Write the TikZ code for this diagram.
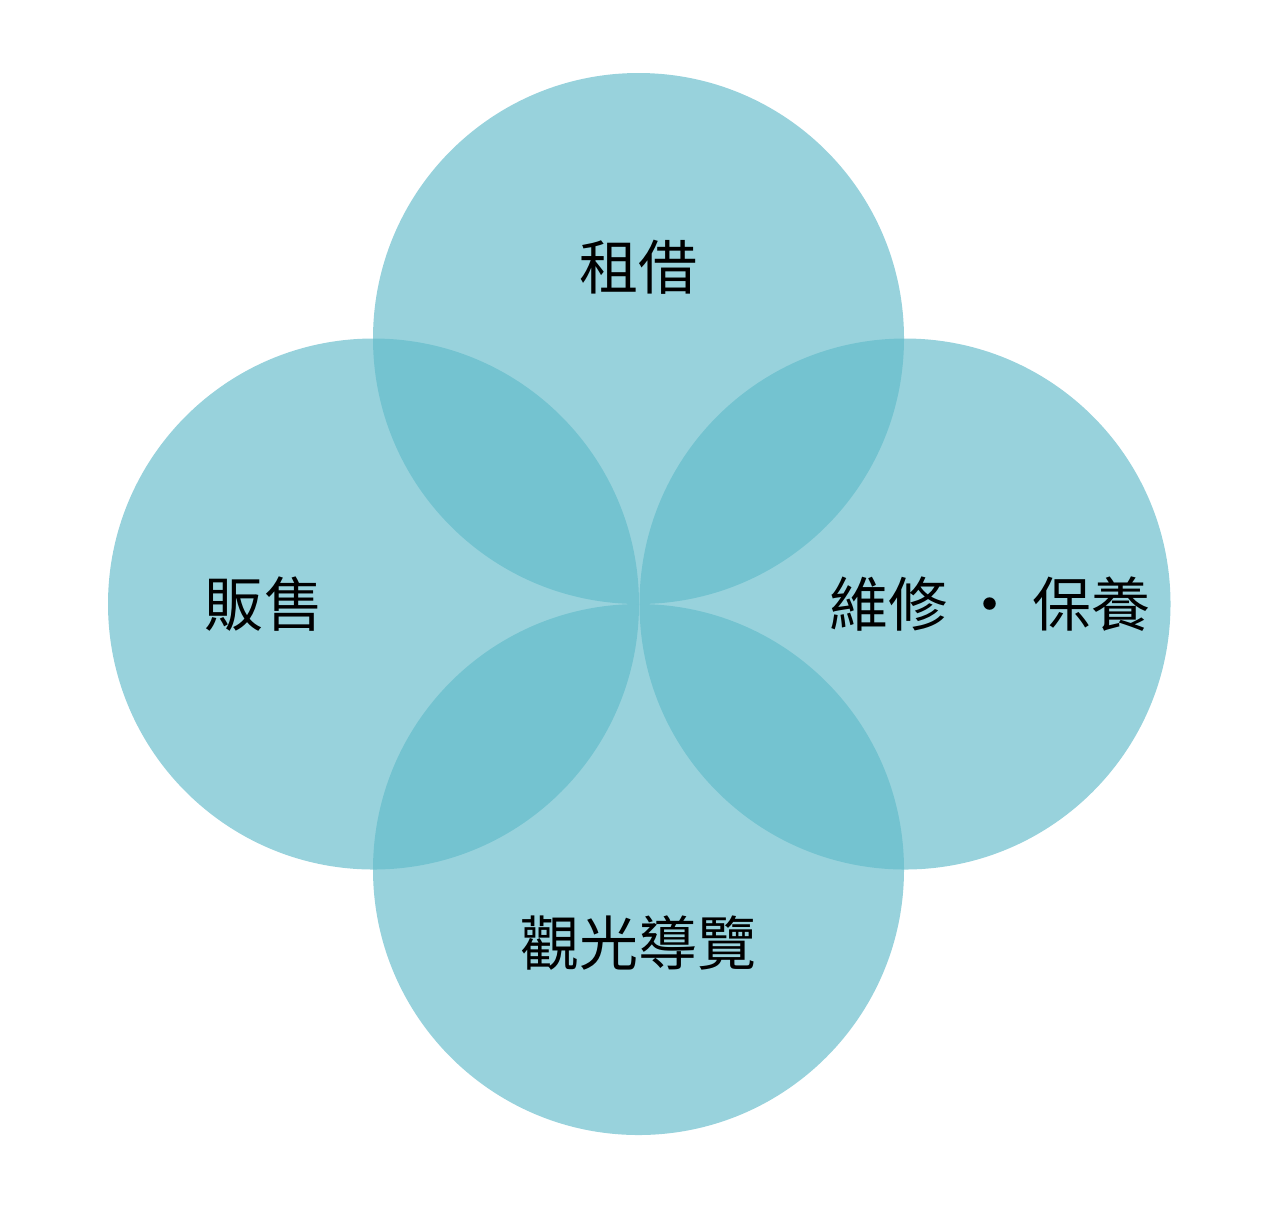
\documentclass[tikz,border=0pt]{standalone}
\usepackage{fontspec}
\usepackage{xcolor}
\usepackage{tikz}
\newfontfamily\cjkfont{Noto Sans CJK TC}

\begin{document}
\begin{tikzpicture}[x=0.75pt,y=0.75pt,yscale=-1,xscale=1]
\useasboundingbox (0,0) rectangle (1280,1208);

%Shape: Circle (top)
\draw  [draw=none, fill={rgb, 255:red, 98; green, 187; blue, 202 }, fill opacity=0.66] (638.5,338.5) circle (265.5) ;
%Shape: Circle (left)
\draw  [draw=none, fill={rgb, 255:red, 98; green, 187; blue, 202 }, fill opacity=0.66] (373.5,604) circle (265.5) ;
%Shape: Circle (right)
\draw  [draw=none, fill={rgb, 255:red, 98; green, 187; blue, 202 }, fill opacity=0.66] (905,604) circle (265.5) ;
%Shape: Circle (bottom)
\draw  [draw=none, fill={rgb, 255:red, 98; green, 187; blue, 202 }, fill opacity=0.66] (638.5,869.5) circle (265.5) ;

% Text Node
\draw (638.5,267) node [anchor=center][inner sep=0pt] (rent) {\cjkfont\fontsize{44.3}{53}\selectfont 租借};
% Text Node
\draw (264,604) node [anchor=center][inner sep=0pt] (sale) {\cjkfont\fontsize{44.3}{53}\selectfont 販售};
% Text Node
\draw (990,604) node [anchor=center][inner sep=0pt] (repair) {\cjkfont\fontsize{44.3}{53}\selectfont 維修 ・ 保養};
% Text Node
\draw (638.5,943) node [anchor=center][inner sep=0pt] (tour) {\cjkfont\fontsize{44.3}{53}\selectfont 觀光導覽};

\end{tikzpicture}
\end{document}
